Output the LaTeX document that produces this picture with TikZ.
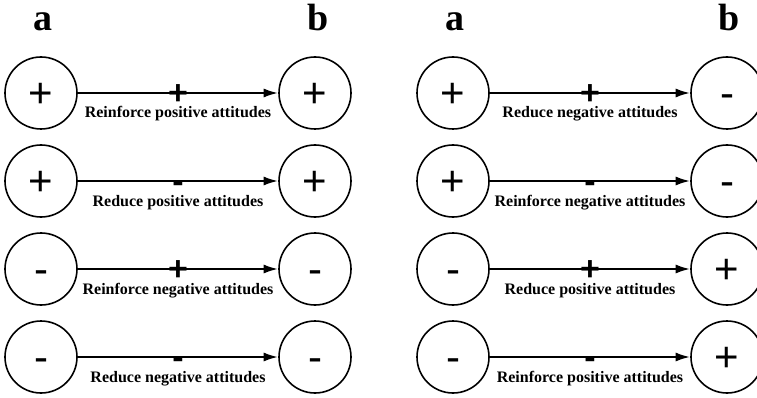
\documentclass[tikz,border=0pt]{standalone}
\usepackage{fontspec}
\setmainfont{Liberation Serif}
\newfontfamily\signfont{Liberation Sans}
\usetikzlibrary{arrows.meta}
\tikzset{
  x=1pt, y=-1pt,
  circ/.style={circle, draw, line width=1.6pt, minimum size=72pt, inner sep=0pt,
    font=\signfont\fontsize{42}{42}\selectfont, text height=29.6pt, text depth=0pt},
  sgn/.style={inner sep=0pt, font=\signfont\bfseries\fontsize{34}{34}\selectfont,
    text height=23.9pt, text depth=0pt},
  lbl/.style={inner sep=0pt, anchor=base, font=\bfseries\fontsize{16}{16}\selectfont},
  head/.style={inner sep=0pt, anchor=base, font=\bfseries\fontsize{38}{38}\selectfont},
  arr/.style={line width=1.4pt, -{Latex[length=14pt,width=9pt]}, shorten >=0.5pt}
}
\begin{document}
\begin{tikzpicture}
\useasboundingbox (0,0) rectangle (757,398);
\begin{scope}
\clip (0,0) rectangle (757,398);
% headings
\node[head] (ha1) at (43,31) {a};
\node[head] (hb1) at (318,31) {b};
\node[head] (ha2) at (455,31) {a};
\node[head] (hb2) at (729,31) {b};
% left panel
\foreach \r/\y/\sa/\sb/\sm/\t in {
  1/93/+/+/+/Reinforce positive attitudes,
  2/181/+/+/-/Reduce positive attitudes,
  3/269/-/-/+/Reinforce negative attitudes,
  4/357/-/-/-/Reduce negative attitudes}{
  \node[circ] (la\r) at (41,\y) {\sa};
  \node[circ] (lb\r) at (315,\y) {\sb};
  \draw[arr] (la\r) -- (lb\r);
  \path (la\r) -- node[sgn] (lm\r) {\sm} node[lbl, yshift=-25pt] (lt\r) {\t} (lb\r);
}
% right panel
\foreach \r/\y/\sa/\sb/\sm/\t in {
  1/93/+/-/+/Reduce negative attitudes,
  2/181/+/-/-/Reinforce negative attitudes,
  3/269/-/+/+/Reduce positive attitudes,
  4/357/-/+/-/Reinforce positive attitudes}{
  \node[circ] (ra\r) at (453,\y) {\sa};
  \node[circ] (rb\r) at (727,\y) {\sb};
  \draw[arr] (ra\r) -- (rb\r);
  \path (ra\r) -- node[sgn] (rm\r) {\sm} node[lbl, yshift=-25pt] (rt\r) {\t} (rb\r);
}
\end{scope}
\end{tikzpicture}
\end{document}
